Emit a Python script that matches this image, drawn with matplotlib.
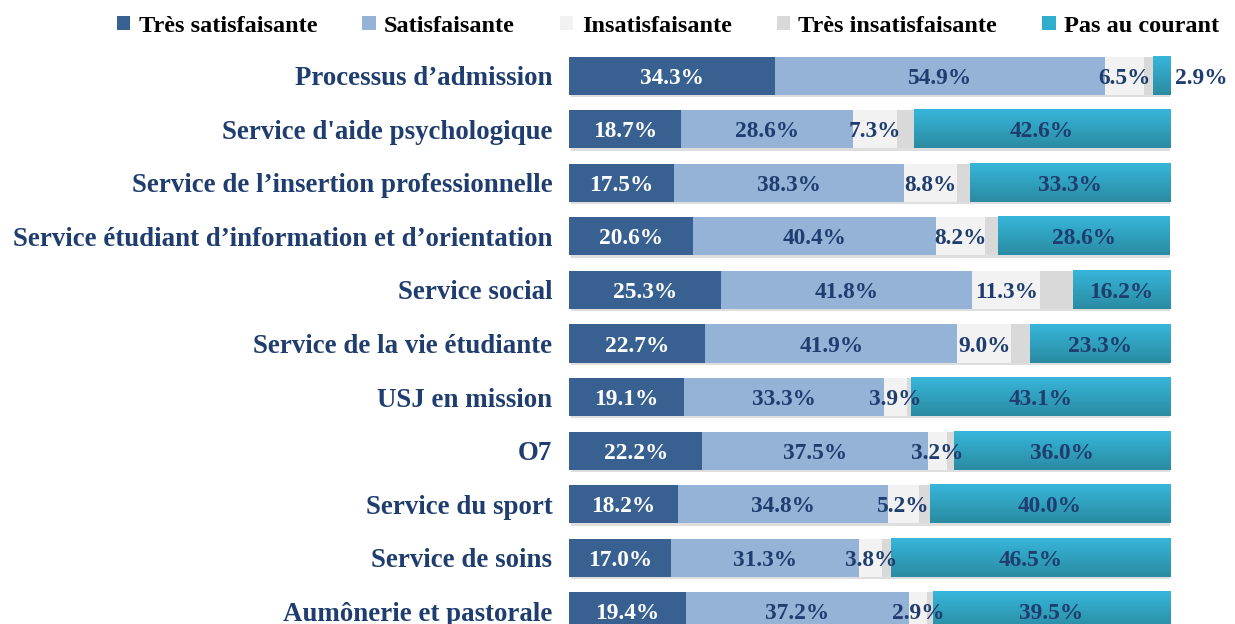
import matplotlib.pyplot as plt
import numpy as np
from matplotlib.colors import LinearSegmentedColormap

categories = [
    "Processus d\u2019admission",
    "Service d'aide psychologique",
    "Service de l\u2019insertion professionnelle",
    "Service \u00e9tudiant d\u2019information et d\u2019orientation",
    "Service social",
    "Service de la vie \u00e9tudiante",
    "USJ en mission",
    "O7",
    "Service du sport",
    "Service de soins",
    "Aum\u00f4nerie et pastorale",
]

series_names = ["Tr\u00e8s satisfaisante", "Satisfaisante", "Insatisfaisante",
                "Tr\u00e8s insatisfaisante", "Pas au courant"]

tres_satisf = [34.3, 18.7, 17.5, 20.6, 25.3, 22.7, 19.1, 22.2, 18.2, 17.0, 19.4]
satisf = [54.9, 28.6, 38.3, 40.4, 41.8, 41.9, 33.3, 37.5, 34.8, 31.3, 37.2]
insatisf = [6.5, 7.3, 8.8, 8.2, 11.3, 9.0, 3.9, 3.2, 5.2, 3.8, 2.9]
tres_insatisf = [1.4, 2.8, 2.1, 2.2, 5.4, 3.1, 0.6, 1.1, 1.8, 1.4, 1.0]
pas_courant = [2.9, 42.6, 33.3, 28.6, 16.2, 23.3, 43.1, 36.0, 40.0, 46.5, 39.5]

colors = ["#386192", "#95b3d7", "#f2f2f2", "#d9d9d9", "#31aecd"]
label_colors = ["white", "#1f3d6e", "#1f3d6e", None, "#1f3d6e"]

plt.rcParams['font.family'] = ['Liberation Serif', 'DejaVu Serif']
plt.rcParams['font.weight'] = 'bold'

fig = plt.figure(figsize=(12.35, 6.24), dpi=100)
ax = fig.add_axes([569 / 1235, (624 - 638) / 624, 601 / 1235, 589 / 624])

data = [tres_satisf, satisf, insatisf, tres_insatisf, pas_courant]
y = np.arange(len(categories))
left = np.zeros(len(categories))
containers = []
for vals, name, col in zip(data, series_names, colors):
    bars = ax.barh(y, vals, left=left, height=0.71, color=col, label=name, zorder=2)
    containers.append(bars)
    left = left + np.array(vals)

# subtle gradient on the last series
grad = LinearSegmentedColormap.from_list("teal", ["#37b6da", "#2a8ba2"])
for p in containers[4]:
    x0, y0, w, h = p.get_x(), p.get_y(), p.get_width(), p.get_height()
    ax.imshow(np.linspace(0, 1, 50).reshape(-1, 1), cmap=grad, aspect='auto',
              extent=[x0, x0 + w, y0 + h, y0], zorder=2.5)

# shadow strip under each full bar
for i in range(len(categories)):
    ax.barh(y[i] + 0.045, left[i], height=0.71, color='#c8c8c8', alpha=0.6, zorder=1,
            left=0.4)

for k, (vals, bars) in enumerate(zip(data, containers)):
    if label_colors[k] is None:
        continue
    for i, (v, p) in enumerate(zip(vals, bars)):
        cx = p.get_x() + p.get_width() / 2
        if k == 4 and v < 5:
            ax.text(p.get_x() + p.get_width() + 0.9, y[i], f"{v:.1f}%", ha='left',
                    va='center_baseline', fontsize=16.8, color="#1f3d6e",
                    fontweight='bold', zorder=5)
        else:
            ax.text(cx, y[i], f"{v:.1f}%", ha='center', va='center_baseline', fontsize=16.8,
                    color=label_colors[k], fontweight='bold', zorder=5)

ax.set_xlim(0, 100)
ax.set_ylim(len(categories) - 0.5, -0.5)
ax.set_yticks(y)
ax.set_yticklabels(categories, fontsize=19.4, color="#1f3d6e", fontweight='bold',
                   va='center_baseline')
ax.tick_params(axis='y', length=0, pad=12)
ax.set_xticks([])
for s in ax.spines.values():
    s.set_visible(False)

leg = fig.legend(loc='center', bbox_to_anchor=(668 / 1235, 1 - 26 / 624), ncol=5, frameon=False,
                 fontsize=17.5, handlelength=0.55, handleheight=0.55, handletextpad=0.35,
                 columnspacing=1.85, borderaxespad=0)

fig.savefig("out.png", dpi=100)
